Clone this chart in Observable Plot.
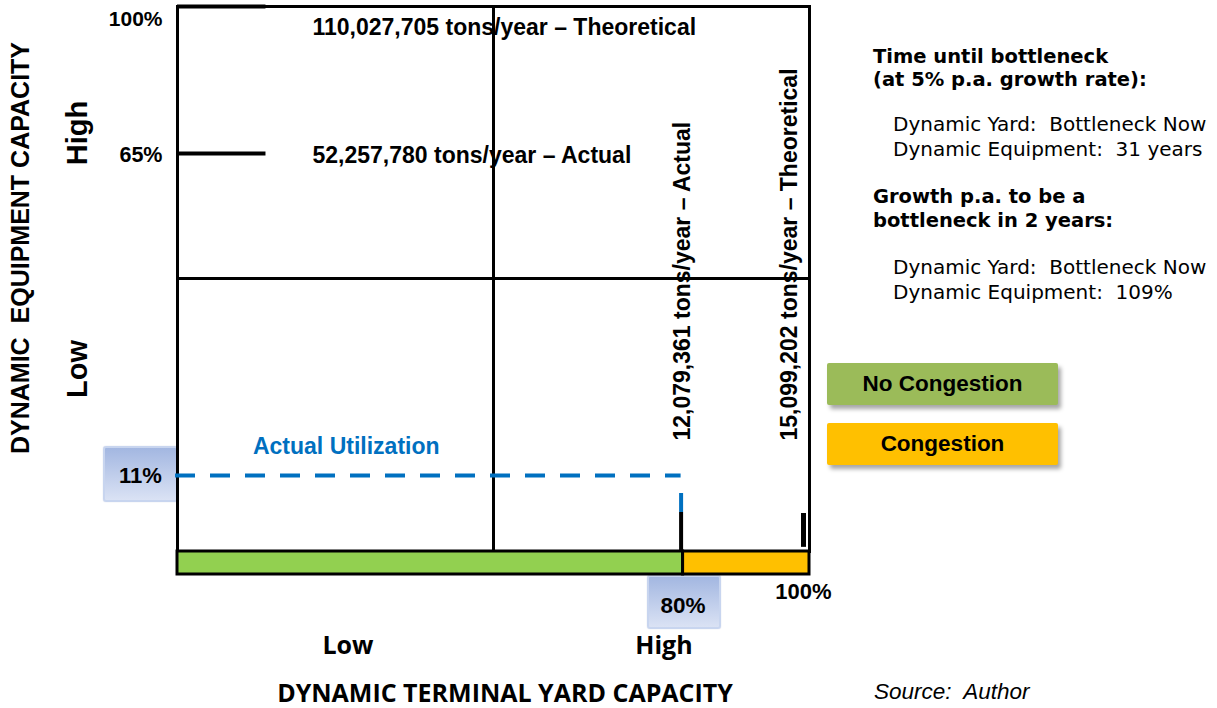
<!DOCTYPE html>
<html><head><meta charset="utf-8">
<script src="https://cdn.jsdelivr.net/npm/d3@7"></script>
<script src="https://cdn.jsdelivr.net/npm/@observablehq/plot@0.6"></script>
<style>
html,body{margin:0;padding:0;background:#fff;}
#wrap{position:relative;width:1217px;height:708px;overflow:hidden;font-family:"Liberation Sans",Arial,sans-serif;}
#wrap svg{position:absolute;left:0;overflow:visible;}
.pbox{position:absolute;background:linear-gradient(#A3B7E1,#DAE2F4);border:2px solid #C8D5EF;border-radius:3px;box-sizing:border-box;box-shadow:0 0 1px rgba(80,100,160,0.4);}
.leg{position:absolute;left:827px;width:231px;height:42px;box-shadow:3px 4px 4px rgba(0,0,0,0.35);border-radius:2px;font-weight:bold;font-size:22.5px;display:flex;align-items:center;justify-content:center;color:#000;}
.panel{position:absolute;font-family:"DejaVu Sans",Verdana,sans-serif;font-size:20px;line-height:25px;white-space:pre;color:#000;}
.rot{position:absolute;transform:translate(-50%,-50%) rotate(-90deg);white-space:pre;font-weight:bold;}
.ctr{position:absolute;transform:translate(-50%,-50%);white-space:pre;font-weight:bold;}
</style></head>
<body>
<div id="wrap">
  <div class="pbox" style="left:103px;top:446px;width:75px;height:56px;"></div>
  <div class="pbox" style="left:647px;top:575px;width:74px;height:54px;"></div>
  <div class="leg" style="top:363px;background:#9BBB59;">No Congestion</div>
  <div class="leg" style="top:423px;background:#FFC000;">Congestion</div>
  <div class="panel" style="left:873px;top:45px;font-weight:bold;font-size:19.5px;line-height:23px;">Time until bottleneck
(at 5% p.a. growth rate):</div>
  <div class="panel" style="left:893px;top:112px;">Dynamic Yard:  Bottleneck Now
Dynamic Equipment:  31 years</div>
  <div class="panel" style="left:873px;top:185px;font-weight:bold;font-size:19.5px;line-height:24px;">Growth p.a. to be a
bottleneck in 2 years:</div>
  <div class="panel" style="left:893px;top:255px;">Dynamic Yard:  Bottleneck Now
Dynamic Equipment:  109%</div>
  <div class="rot" style="left:20px;top:248px;font-size:25px;">DYNAMIC  EQUIPMENT CAPACITY</div>
  <div class="rot" style="left:77px;top:133px;font-size:29px;">High</div>
  <div class="rot" style="left:77px;top:369px;font-size:29px;">Low</div>
  <div class="ctr" style="left:348px;top:644px;font-size:25px;font-family:'Open Sans',sans-serif;">Low</div>
  <div class="ctr" style="left:664px;top:644px;font-size:25px;font-family:'Open Sans',sans-serif;">High</div>
  <div class="ctr" style="left:505px;top:692px;font-size:25px;font-family:'Open Sans',sans-serif;">DYNAMIC TERMINAL YARD CAPACITY</div>
  <div style="position:absolute;left:874px;top:679px;font-size:22.5px;font-style:italic;white-space:pre;">Source:  Author</div>
</div>
<script>
// ---- data ----
const zoneNames = ["No Congestion", "Congestion"];
const zoneStart = [0, 80];
const zoneEnd = [80, 100];
const equipTicks = [100, 65];
const equipTickLabels = ["100%", "65%"];
const equipVolumes = ["110,027,705 tons/year – Theoretical", "52,257,780 tons/year – Actual"];
const yardTicks = [80, 100];
const yardTickLabels = ["80%", "100%"];
const yardVolumes = ["12,079,361 tons/year – Actual", "15,099,202 tons/year – Theoretical"];
const actualYard = 80;
const actualEquip = 11;
const actualLabel = ["11%"];
const utilLabel = ["Actual Utilization"];
const quadrantSplit = 50;

const zoneRows = zoneNames.map((z, i) => ({zone: z, from: zoneStart[i], to: zoneEnd[i]}));
const equipRows = equipTicks.map((v, i) => ({value: v, label: equipTickLabels[i], volume: equipVolumes[i]}));
const yardRows = yardTicks.map((v, i) => ({value: v, label: yardTickLabels[i], volume: yardVolumes[i]}));

const blue = "#0070C0";
const font = "Liberation Sans, Arial, sans-serif";
// schematic (non-linear) vertical axis of the original diagram
const equipWarp = d3.scaleLinear().domain([0, actualEquip, quadrantSplit, 65, 100]).range([0, 13.94, 50.09, 73.03, 100]);

const main = Plot.plot({
  width: 1217, height: 708,
  marginLeft: 177, marginRight: 408, marginTop: 6, marginBottom: 157,
  x: {domain: [0, 100], axis: null},
  y: {domain: [0, 100], transform: equipWarp, axis: null},
  style: {fontFamily: font, background: "none", overflow: "visible"},
  marks: [
    Plot.frame({stroke: "black", strokeWidth: 3}),
    Plot.ruleX([quadrantSplit], {stroke: "black", strokeWidth: 3}),
    Plot.ruleY([quadrantSplit], {stroke: "black", strokeWidth: 3}),
    Plot.ruleY(equipRows, {y: "value", x1: 0, x2: 14, stroke: "black", strokeWidth: 4}),
    Plot.ruleY([actualEquip], {x1: 0, x2: actualYard, stroke: blue, strokeWidth: 4, strokeDasharray: "20,15", dx: -2}),
    Plot.ruleX([actualYard], {y1: 0, y2: 5.65, stroke: "black", strokeWidth: 4, dx: -2}),
    Plot.ruleX([actualYard], {y1: 5.65, y2: 8.4, stroke: blue, strokeWidth: 4, dx: -2}),
    Plot.ruleX([100], {y1: 0.6, y2: 5.5, stroke: "black", strokeWidth: 5, dx: -6}),
    // equipment tick labels
    Plot.text(equipRows, {filter: (d, i) => i === 0, x: 0, y: "value", text: "label", textAnchor: "end", dx: -15, dy: 13, fontWeight: "bold", fontSize: 21, fill: "black"}),
    Plot.text(equipRows, {filter: (d, i) => i === 1, x: 0, y: "value", text: "label", textAnchor: "end", dx: -15, dy: 2, fontWeight: "bold", fontSize: 21.5, fill: "black"}),
    Plot.text(equipRows, {filter: (d, i) => i === 0, x: 0, y: "value", text: "volume", textAnchor: "start", dx: 135, dy: 21, fontWeight: "bold", fontSize: 23, fill: "black"}),
    Plot.text(equipRows, {filter: (d, i) => i === 1, x: 0, y: "value", text: "volume", textAnchor: "start", dx: 135, dy: 2, fontWeight: "bold", fontSize: 23, fill: "black"}),
    // yard volumes (rotated)
    Plot.text(yardRows, {filter: (d, i) => i === 0, x: "value", y: actualEquip, text: "volume", rotate: -90, textAnchor: "start", dy: -35, fontWeight: "bold", fontSize: 23, fill: "black"}),
    Plot.text(yardRows, {filter: (d, i) => i === 1, x: "value", y: actualEquip, text: "volume", rotate: -90, textAnchor: "start", dx: -20, dy: -35, fontWeight: "bold", fontSize: 23, fill: "black"}),
    // yard tick labels
    Plot.text(yardRows, {filter: (d, i) => i === 0, x: "value", y: 0, text: "label", dy: 54, fontWeight: "bold", fontSize: 22.5, fill: "black"}),
    Plot.text(yardRows, {filter: (d, i) => i === 1, x: "value", y: 0, text: "label", dx: -6, dy: 40, fontWeight: "bold", fontSize: 22, fill: "black"}),
    // actual utilization
    Plot.text(actualLabel, {x: 0, y: actualEquip, text: d => d, dx: -37, fontWeight: "bold", fontSize: 22, fill: "black"}),
    Plot.text(utilLabel, {x: 26.7, y: actualEquip, text: d => d, dy: -29, fontWeight: "bold", fontSize: 23, fill: blue})
  ]
});
main.style.top = "0px";

const bar = Plot.plot({
  width: 1217, height: 29,
  marginLeft: 177, marginRight: 408, marginTop: 3, marginBottom: 3,
  x: {domain: [0, 100], axis: null},
  color: {domain: zoneNames, range: ["#92D050", "#FFC000"]},
  style: {background: "none", overflow: "visible"},
  marks: [
    Plot.rect(zoneRows, {x1: "from", x2: "to", fill: "zone", stroke: "black", strokeWidth: 3})
  ]
});
bar.style.top = "548px";

const wrap = document.getElementById("wrap");
wrap.insertBefore(bar, wrap.children[2]);
wrap.insertBefore(main, wrap.children[2]);
</script>
</body></html>
